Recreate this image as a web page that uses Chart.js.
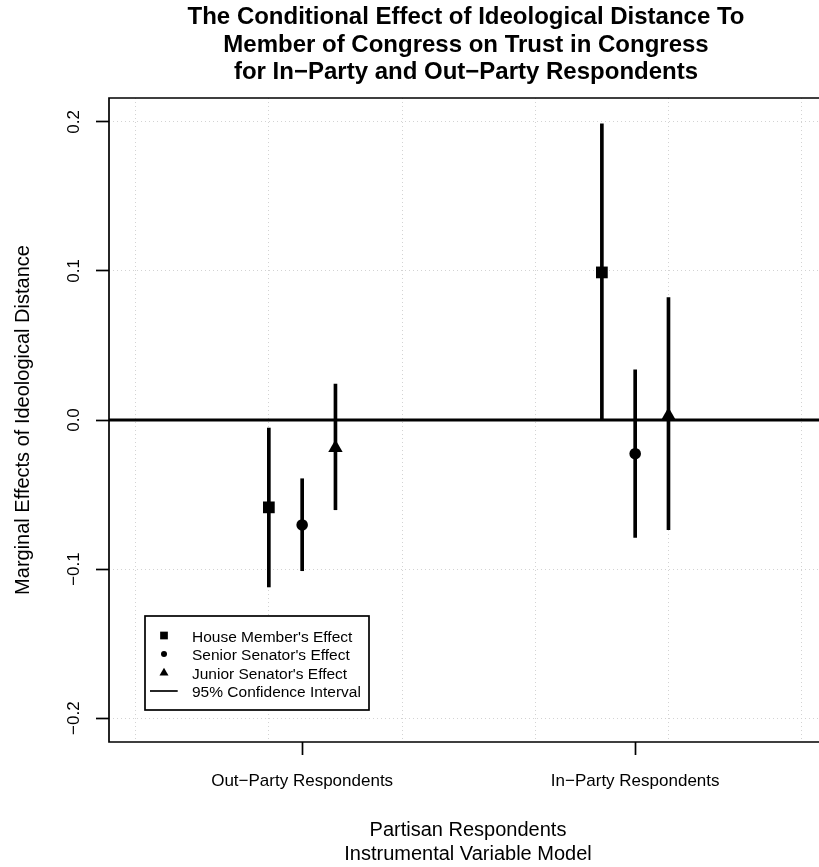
<!DOCTYPE html>
<html><head><meta charset="utf-8">
<script src="https://cdn.jsdelivr.net/npm/chart.js@4.4.1/dist/chart.umd.min.js"></script>
<style>html,body{margin:0;padding:0;background:#fff}#wrap{width:819px;height:867px}</style>
</head><body><div id="wrap"><canvas id="c" width="819" height="867"></canvas></div>
<script>
// ---- text ----
const titleLines = ['The Conditional Effect of Ideological Distance To', 'Member of Congress on Trust in Congress', 'for In\u2212Party and Out\u2212Party Respondents'];
const xTitleLines = ['Partisan Respondents', 'Instrumental Variable Model'];
const yTitle = 'Marginal Effects of Ideological Distance';

// ---- categories / series ----
const categories = ['Out\u2212Party Respondents', 'In\u2212Party Respondents'];
const categoryPos = [1, 2];
const seriesNames = ["House Member's Effect", "Senior Senator's Effect", "Junior Senator's Effect"];
const ciName = '95% Confidence Interval';
const seriesOffset = [-0.1, 0, 0.1];

// ---- values (estimate, lower CI, upper CI) ----
const houseEst = [-0.0586, 0.0990];
const houseLo  = [-0.1120, 0.0000];
const houseHi  = [-0.0054, 0.1986];
const seniorEst = [-0.0704, -0.0226];
const seniorLo  = [-0.1011, -0.0788];
const seniorHi  = [-0.0394, 0.0337];
const juniorEst = [-0.0186, 0.0030];
const juniorLo  = [-0.0602, -0.0736];
const juniorHi  = [0.0241, 0.0822];

// ---- axes ----
const yTicks = [-0.2, -0.1, 0, 0.1, 0.2];
const yTickLabels = ['\u22120.2', '\u22120.1', '0.0', '0.1', '0.2'];
const xGridValues = [0.5, 0.9, 1.3, 1.7, 2.1, 2.5];
const xMin = 0.42, xMax = 2.552, yMin = -0.216, yMax = 0.216;

const FONT = "'Liberation Sans', Arial, Helvetica, sans-serif";
const est = [houseEst, seniorEst, juniorEst];
const lo = [houseLo, seniorLo, juniorLo];
const hi = [houseHi, seniorHi, juniorHi];
const styles = ['rect', 'circle', 'triangle'];
const radii = [8.3, 5.8, 8.3];

const pointSets = seriesNames.map((n, s) => ({
  type: 'scatter', label: n,
  data: categoryPos.map((c, i) => ({x: c + seriesOffset[s], y: est[s][i]})),
  pointStyle: styles[s], pointRadius: radii[s], pointHoverRadius: radii[s],
  backgroundColor: '#000', borderColor: '#000', pointBorderWidth: 0, order: 0
}));
const ciData = [];
seriesNames.forEach((n, s) => categoryPos.forEach((c, i) => ciData.push({x: c + seriesOffset[s], y: [lo[s][i], hi[s][i]]})));
const ciSet = {type: 'bar', label: ciName, data: ciData, backgroundColor: '#000', borderWidth: 0,
  barThickness: 3, grouped: false, order: 1, xAxisID: 'x', yAxisID: 'y'};

const decor = {
  id: 'decor',
  beforeDatasetsDraw(chart) {
    const {ctx, chartArea: a, scales: {y}} = chart;
    ctx.save();
    ctx.strokeStyle = '#000'; ctx.lineWidth = 3;
    const y0 = y.getPixelForValue(0);
    ctx.beginPath(); ctx.moveTo(a.left, y0); ctx.lineTo(a.right, y0); ctx.stroke();
    ctx.restore();
  },
  afterDraw(chart) {
    const {ctx, chartArea: a, scales: {y}} = chart;
    ctx.save();
    // box
    ctx.strokeStyle = '#000'; ctx.lineWidth = 1.7;
    ctx.beginPath();
    ctx.moveTo(a.right + 5, a.top); ctx.lineTo(a.left, a.top); ctx.lineTo(a.left, a.bottom); ctx.lineTo(a.right + 5, a.bottom);
    ctx.stroke();
    ctx.fillStyle = '#000';
    // title
    ctx.font = 'bold 24px ' + FONT; ctx.textAlign = 'center'; ctx.textBaseline = 'alphabetic';
    const cx = 466;
    titleLines.forEach((t, i) => ctx.fillText(t, cx, 24 + i * 27.5));
    // x title
    ctx.font = '20px ' + FONT;
    xTitleLines.forEach((t, i) => ctx.fillText(t, 468, 836 + i * 24));
    // y title
    ctx.save(); ctx.translate(29, (a.top + a.bottom) / 2); ctx.rotate(-Math.PI / 2);
    ctx.fillText(yTitle, 0, 0); ctx.restore();
    // y tick labels
    ctx.font = '17px ' + FONT;
    yTicks.forEach((v, i) => {
      ctx.save(); ctx.translate(79, y.getPixelForValue(v)); ctx.rotate(-Math.PI / 2);
      ctx.fillText(yTickLabels[i], 0, 0); ctx.restore();
    });
    // legend
    const lx = 145, ly = 616, lw = 224, lh = 94;
    ctx.fillStyle = '#fff'; ctx.fillRect(lx, ly, lw, lh);
    ctx.strokeStyle = '#000'; ctx.lineWidth = 1.7; ctx.strokeRect(lx, ly, lw, lh);
    ctx.fillStyle = '#000';
    const sx = 164;
    const rows = [635.5, 654, 673, 691];
    ctx.fillRect(sx - 3.85, rows[0] - 3.85, 7.7, 7.7);
    ctx.beginPath(); ctx.arc(sx, rows[1], 3, 0, Math.PI * 2); ctx.fill();
    const r = 5.2;
    ctx.beginPath();
    ctx.moveTo(sx, rows[2] - r);
    ctx.lineTo(sx + r * Math.sqrt(3) / 2, rows[2] + r / 2);
    ctx.lineTo(sx - r * Math.sqrt(3) / 2, rows[2] + r / 2);
    ctx.closePath(); ctx.fill();
    ctx.lineWidth = 1.7; ctx.beginPath(); ctx.moveTo(150, rows[3]); ctx.lineTo(177.7, rows[3]); ctx.stroke();
    ctx.font = '15.5px ' + FONT; ctx.textAlign = 'left'; ctx.textBaseline = 'alphabetic';
    const legendTexts = seriesNames.concat([ciName]);
    legendTexts.forEach((t, i) => ctx.fillText(t, 192, rows[i] + 6));
    ctx.restore();
  }
};

new Chart(document.getElementById('c'), {
  type: 'scatter',
  data: {datasets: [...pointSets, ciSet]},
  options: {
    responsive: false, animation: false, events: [],
    layout: {autoPadding: false, padding: {top: 98, bottom: 0, left: 0, right: 0}},
    plugins: {legend: {display: false}, tooltip: {enabled: false}, title: {display: false}},
    scales: {
      x: {
        type: 'linear', position: 'bottom', min: xMin, max: xMax, offset: false,
        afterBuildTicks: s => { s.ticks = categoryPos.map(v => ({value: v})); },
        afterFit: s => { s.height = 125; },
        grid: {offset: false, drawOnChartArea: false, drawTicks: true, tickLength: 13, tickColor: '#000', tickWidth: 1.7},
        border: {display: false},
        ticks: {
          autoSkip: false, maxRotation: 0, minRotation: 0, padding: 16, color: '#000',
          font: {family: FONT, size: 17},
          callback: v => { const k = categoryPos.indexOf(v); return k >= 0 ? categories[k] : ''; }
        }
      },
      xg: {
        type: 'linear', position: 'bottom', min: xMin, max: xMax, offset: false,
        afterBuildTicks: s => { s.ticks = xGridValues.map(v => ({value: v})); },
        afterFit: s => { s.height = 0; },
        grid: {offset: false, color: '#d3d3d3', lineWidth: 1, drawTicks: false},
        border: {display: false, dash: [1, 3]},
        ticks: {display: false}
      },
      y: {
        type: 'linear', position: 'left', min: yMin, max: yMax,
        afterBuildTicks: s => { s.ticks = yTicks.map(v => ({value: v})); },
        afterFit: s => { s.width = 109; },
        grid: {color: '#d3d3d3', lineWidth: 1, drawTicks: true, tickLength: 13,
          tickColor: '#000', tickWidth: 1.7, tickBorderDash: []},
        border: {display: false, dash: [1, 3]},
        ticks: {display: false}
      }
    }
  },
  plugins: [decor]
});
</script></body></html>
